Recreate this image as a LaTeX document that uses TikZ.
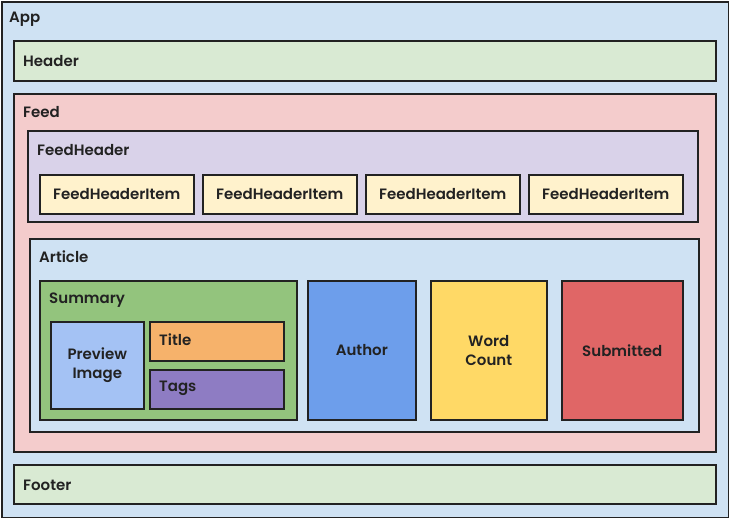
\documentclass[tikz,border=0pt]{standalone}
\usepackage{fontspec}
\IfFontExistsTF{Poppins SemiBold}
  {\setmainfont{Poppins}[BoldFont={Poppins SemiBold}]}
  {\setmainfont{Poppins}}
\usepackage{tikz}
\usetikzlibrary{positioning}

\definecolor{appblue}{HTML}{CFE2F3}
\definecolor{paleGreen}{HTML}{D9EAD3}
\definecolor{paleRed}{HTML}{F4CCCC}
\definecolor{palePurple}{HTML}{D9D2E9}
\definecolor{paleYellow}{HTML}{FFF2CC}
\definecolor{midGreen}{HTML}{93C47D}
\definecolor{lightBlue}{HTML}{A4C2F4}
\definecolor{midOrange}{HTML}{F6B26B}
\definecolor{midPurple}{HTML}{8E7CC3}
\definecolor{midBlue}{HTML}{6D9EEB}
\definecolor{midYellow}{HTML}{FFD966}
\definecolor{midRed}{HTML}{E06666}
\definecolor{edge}{HTML}{222222}

\begin{document}
\begin{tikzpicture}[x=1pt,y=-1pt,font=\fontsize{15}{19.5}\selectfont\bfseries]
\tikzset{%
  comp/.style = {%
    draw = edge,
    line width = 1.6pt,
    anchor = north west,
    inner sep = 0pt,
    text = edge
  },
  caption/.style = {%
    anchor = west,
    inner sep = 0pt,
    text = edge
  }
}
  \useasboundingbox (0,0) rectangle (729,518);

  % outer frame
  \node[comp, fill=appblue, minimum width=727pt, minimum height=516pt]
    (app) at (1,1) {};
  \node[caption] at (9,19) {App};

  \node[comp, fill=paleGreen, minimum width=702pt, minimum height=40pt]
    (header) at (13,40) {};
  \node[caption] at (23,61) {Header};

  \node[comp, fill=paleRed, minimum width=702pt, minimum height=358pt]
    (feed) at (13,93) {};
  \node[caption] at (23,112) {Feed};

  % feed header with its items
  \node[comp, fill=palePurple, minimum width=670pt, minimum height=91pt]
    (feedheader) at (27,130) {};
  \node[caption] at (37,150) {FeedHeader};

  \foreach \i/\x in {1/39,2/202,3/365,4/528}
    \node[comp, fill=paleYellow, minimum width=154pt, minimum height=39pt]
      (item\i) at (\x,174) {};
  \foreach \i in {1,...,4}
    \node[text=edge] at (item\i.center) {FeedHeaderItem};

  % article
  \node[comp, fill=appblue, minimum width=669pt, minimum height=193pt]
    (article) at (29,238) {};
  \node[caption] at (39,257) {Article};

  \node[comp, fill=midGreen, minimum width=257pt, minimum height=139pt]
    (summary) at (39,280) {};
  \node[caption] at (49,300) {Summary};

  \node[comp, fill=lightBlue, minimum width=93pt, minimum height=87pt,
    align=center] (preview) at (50,321) {Preview\\Image};
  \node[comp, fill=midOrange, minimum width=134pt, minimum height=39pt]
    (title) at (149,321) {};
  \node[caption] at (159,340) {Title};
  \node[comp, fill=midPurple, minimum width=134pt, minimum height=39pt]
    (tags) at (149,369) {};
  \node[caption] at (159,388) {Tags};

  \node[comp, fill=midBlue, minimum width=108pt, minimum height=139pt]
    (author) at (307,280) {Author};
  \node[comp, fill=midYellow, minimum width=116pt, minimum height=139pt,
    align=center] (wordcount) at (430,280) {Word\\Count};
  \node[comp, fill=midRed, minimum width=121pt, minimum height=139pt]
    (submitted) at (561,280) {Submitted};

  \node[comp, fill=paleGreen, minimum width=702pt, minimum height=39pt]
    (footer) at (13,464) {};
  \node[caption] at (23,485) {Footer};
\end{tikzpicture}
\end{document}
